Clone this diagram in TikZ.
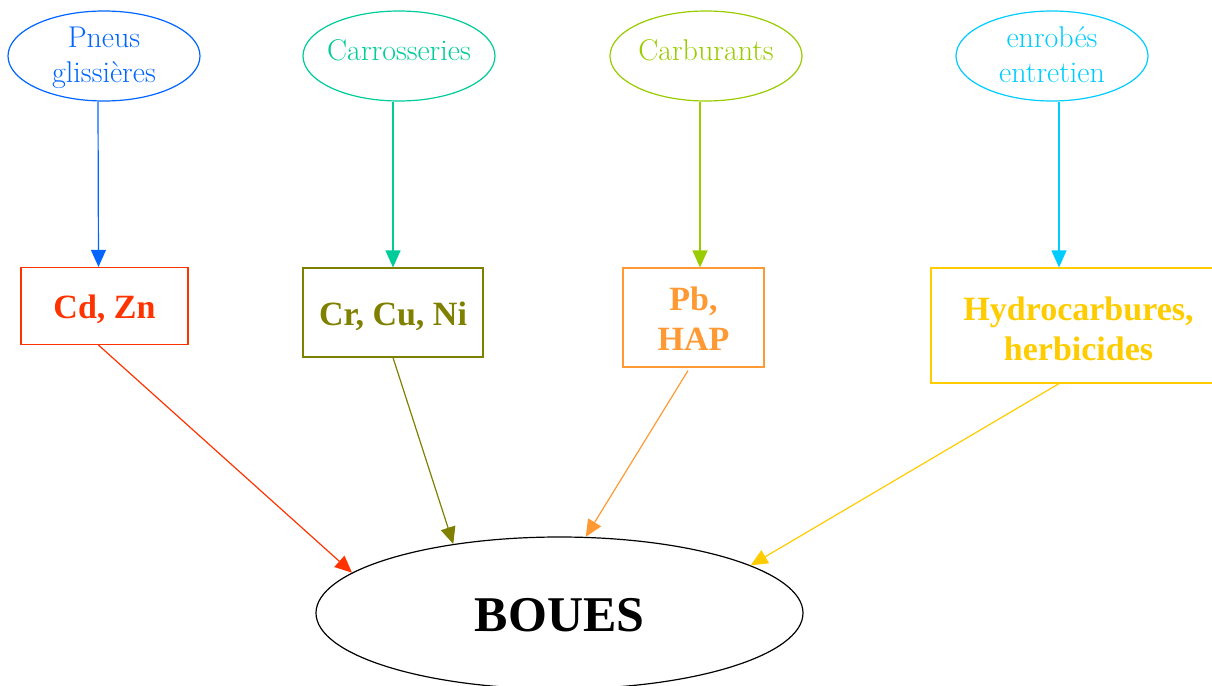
\documentclass[tikz,border=0pt]{standalone}
\usepackage{fontspec}
\newfontfamily\tnb{Liberation Serif}
\usetikzlibrary{shapes.geometric,arrows.meta,calc}
\definecolor{cblue}{HTML}{0066FF}
\definecolor{cteal}{HTML}{00CC99}
\definecolor{clime}{HTML}{99CC00}
\definecolor{ccyan}{HTML}{00CCFF}
\definecolor{cred}{HTML}{FF3300}
\definecolor{colive}{HTML}{808000}
\definecolor{corange}{HTML}{FF9933}
\definecolor{cyellow}{HTML}{FFCC00}
\tikzset{
  src/.style={ellipse,draw,line width=1.2pt,inner sep=0pt,minimum width=192pt,minimum height=90pt,align=center,font=\rmfamily\fontsize{30}{35}\selectfont},
  srctwo/.style={src,inner sep=-12pt},
  srcone/.style={src,inner xsep=-12pt,text height=20pt,text depth=11pt},
  metal/.style={rectangle,draw,line width=1.2pt,inner sep=0pt,align=center,font=\tnb\fontsize{34}{40}\selectfont\bfseries},
  conn/.style={line width=1.2pt,-{Triangle[length=17pt,width=15pt]}},
}
\begin{document}
\begin{tikzpicture}[x=1pt,y=-1pt]
\useasboundingbox (0,0) rectangle (1212,685);
% sources
\node[srctwo,cblue,text=cblue] (e1) at (104,56) {\rule{0pt}{27.5pt}Pneus\\glissières\strut};
\node[srcone,cteal,text=cteal] (e2) at (399,56) {Carrosseries};
\node[srcone,clime,text=clime] (e3) at (706,56) {Carburants};
\node[srctwo,ccyan,text=ccyan] (e4) at (1052,56) {\rule{0pt}{27.5pt}enrobés\\entretien\strut};
% boxes
\node[metal,cred,text=cred,minimum width=167pt,minimum height=77pt,text height=30pt,text depth=6pt] (b1) at (104.5,306) {Cd, Zn};
\node[metal,colive,text=colive,minimum width=180pt,minimum height=89pt,text height=31pt,text depth=6pt] (b2) at (393,312.5) {Cr, Cu, Ni};
\node[metal,corange,text=corange,minimum width=141pt,minimum height=99pt] (b3) at (693.5,317.5) {\rule{0pt}{26pt}Pb,\\HAP};
\node[metal,cyellow,text=cyellow,minimum width=295pt,minimum height=115pt] (b4) at (1078.5,325.5) {\rule{0pt}{31pt}Hydrocarbures,\\herbicides};
% sink
\node[ellipse,draw,line width=1.2pt,inner sep=0pt,minimum width=487pt,minimum height=152pt,text height=36pt,text depth=0pt,font=\tnb\fontsize{50}{56}\selectfont\bfseries] (boues) at (559.5,613) {BOUES};
% connectors
\draw[conn,cblue] ($(e1.south)+(-6,0)$) -- ($(b1.north)+(-6,0)$);
\draw[conn,cteal] ($(e2.south)+(-6,0)$) -- (b2.north);
\draw[conn,clime] ($(e3.south)+(-6,0)$) -- ($(b3.north)+(6.5,0)$);
\draw[conn,ccyan] ($(e4.south)+(7,0)$) -- ($(b4.north)+(-19.5,0)$);
\draw[conn,cred] ($(b1.south)+(-6,0)$) -- (boues.169);
\draw[conn,colive] (b2.south) -- (boues.147.6);
\draw[conn,corange] ($(b3.south)+(-5.5,3)$) -- (boues.71.7);
\draw[conn,cyellow] ($(b4.south)+(-19.5,0)$) -- (boues.14.6);
\end{tikzpicture}
\end{document}
